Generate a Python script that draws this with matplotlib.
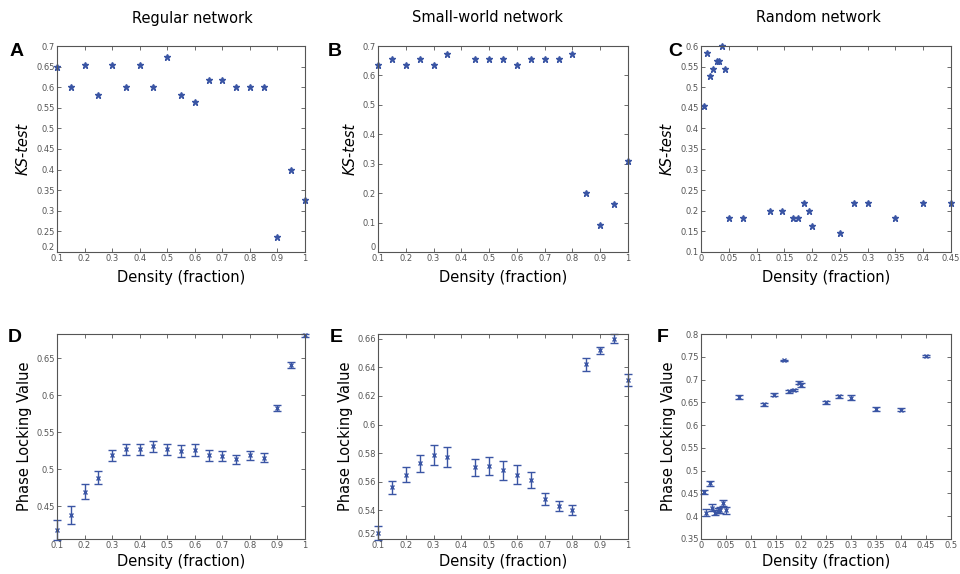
import numpy as np
import matplotlib
matplotlib.use("Agg")
import matplotlib.pyplot as plt
from matplotlib.ticker import FuncFormatter

# ---- data ----
dens_reg = [0.1, 0.15, 0.2, 0.25, 0.3, 0.35, 0.4, 0.45, 0.5, 0.55,
            0.6, 0.65, 0.7, 0.75, 0.8, 0.85, 0.9, 0.95, 1.0]
ks_reg = [0.65, 0.6, 0.655, 0.582, 0.655, 0.6, 0.655, 0.6, 0.673, 0.582,
          0.564, 0.618, 0.618, 0.6, 0.6, 0.6, 0.236, 0.4, 0.327]

dens_sw = [0.1, 0.15, 0.2, 0.25, 0.3, 0.35, 0.45, 0.5, 0.55,
           0.6, 0.65, 0.7, 0.75, 0.8, 0.85, 0.9, 0.95, 1.0]
ks_sw = [0.636, 0.655, 0.636, 0.655, 0.636, 0.673, 0.655, 0.655, 0.655,
         0.636, 0.655, 0.655, 0.655, 0.673, 0.2, 0.091, 0.164, 0.31]

dens_rnd = [0.005, 0.01, 0.017, 0.022, 0.028, 0.033, 0.038, 0.044, 0.05,
            0.075, 0.125, 0.145, 0.165, 0.175, 0.185, 0.195, 0.2, 0.25,
            0.275, 0.3, 0.35, 0.4, 0.45]
ks_rnd = [0.455, 0.582, 0.527, 0.545, 0.564, 0.564, 0.6, 0.545, 0.182,
          0.182, 0.2, 0.2, 0.182, 0.182, 0.218, 0.2, 0.164, 0.145,
          0.218, 0.218, 0.182, 0.218, 0.218]

plv_reg = [0.418, 0.438, 0.47, 0.489, 0.519, 0.527, 0.527, 0.531, 0.527, 0.525,
           0.526, 0.519, 0.518, 0.514, 0.519, 0.516, 0.583, 0.641, 0.681]
plv_reg_err = [0.013, 0.012, 0.01, 0.009, 0.007, 0.007, 0.007, 0.007, 0.007, 0.008,
               0.008, 0.007, 0.007, 0.006, 0.006, 0.006, 0.004, 0.004, 0.002]

plv_sw = [0.524, 0.556, 0.565, 0.573, 0.579, 0.577, 0.570, 0.571, 0.568,
          0.565, 0.561, 0.548, 0.543, 0.540, 0.642, 0.652, 0.660, 0.631]
plv_sw_err = [0.005, 0.0045, 0.0055, 0.006, 0.007, 0.007, 0.006, 0.0065, 0.0065,
              0.0065, 0.0055, 0.004, 0.0035, 0.0035, 0.0045, 0.0025, 0.003, 0.004]

plv_rnd = [0.453, 0.408, 0.472, 0.419, 0.408, 0.412, 0.414, 0.429, 0.413,
           0.661, 0.646, 0.667, 0.742, 0.674, 0.677, 0.693, 0.688, 0.65,
           0.663, 0.66, 0.636, 0.634, 0.751]
plv_rnd_err = [0.005, 0.007, 0.006, 0.007, 0.006, 0.006, 0.007, 0.007, 0.008,
               0.004, 0.003, 0.004, 0.002, 0.004, 0.003, 0.003, 0.004, 0.004,
               0.004, 0.005, 0.004, 0.004, 0.002]

titles = ["Regular network", "Small-world network", "Random network"]
letters = ["A", "B", "C", "D", "E", "F"]

BLUE = "#3a55a4"
GRAY = "#555555"

fig = plt.figure(figsize=(9.6, 5.74), dpi=100)

lefts = [57, 378, 701]
widths = [248, 250, 250]


def make_ax(col, top_px, bottom_px):
    l = lefts[col] / 960
    w = widths[col] / 960
    b = 1 - bottom_px / 574
    h = (bottom_px - top_px) / 574
    ax = fig.add_axes([l, b, w, h])
    ax.tick_params(direction="in", top=True, right=True, length=3,
                   width=0.6, labelsize=6, colors=GRAY, pad=1.5)
    for s in ax.spines.values():
        s.set_color(GRAY)
        s.set_linewidth(0.8)
    ax.xaxis.set_major_formatter(FuncFormatter(lambda v, p: f"{round(v, 3):g}"))
    ax.yaxis.set_major_formatter(FuncFormatter(lambda v, p: f"{round(v, 3):g}"))
    return ax


def lift_first_ylabel(ax):
    # keep the corner y label clear of the first x label
    fig.canvas.draw()
    lab = ax.get_yticklabels()[0]
    lab.set_verticalalignment("bottom")


# ---- top row: KS-test ----
top_data = [(dens_reg, ks_reg), (dens_sw, ks_sw), (dens_rnd, ks_rnd)]
top_xlim = [(0.1, 1.0), (0.1, 1.0), (0.0, 0.45)]
top_ylim = [(0.2, 0.7), (0.0, 0.7), (0.1, 0.6)]
top_xticks = [np.arange(0.1, 1.01, 0.1), np.arange(0.1, 1.01, 0.1), np.arange(0, 0.451, 0.05)]
top_yticks = [np.arange(0.2, 0.701, 0.05), np.arange(0, 0.701, 0.1), np.arange(0.1, 0.601, 0.05)]

for i in range(3):
    ax = make_ax(i, 46, 252)
    x, y = top_data[i]
    ax.plot(x, y, linestyle="none", marker="*", markersize=5, color=BLUE,
            clip_on=False)
    ax.set_xlim(*top_xlim[i])
    ax.set_ylim(*top_ylim[i])
    ax.set_xticks(top_xticks[i])
    ax.set_yticks(top_yticks[i])
    ax.set_xlabel("Density (fraction)", fontsize=10.5, labelpad=5)
    ax.set_ylabel("KS-test", fontsize=10.5, style="italic", labelpad=4)
    if i < 2:
        lift_first_ylabel(ax)
    fig.text([192, 488, 818][i] / 960, 1 - 18 / 574, titles[i],
             ha="center", va="center", fontsize=10.5)
    fig.text([10, 328, 668][i] / 960, 1 - 52 / 574, letters[i],
             fontsize=14, fontweight="bold", family="Liberation Sans",
             va="center")

# ---- bottom row: Phase Locking Value ----
bot_data = [(dens_reg, plv_reg, plv_reg_err), (dens_sw, plv_sw, plv_sw_err),
            (dens_rnd, plv_rnd, plv_rnd_err)]
bot_xlim = [(0.1, 1.0), (0.1, 1.0), (0.0, 0.5)]
bot_ylim = [(0.406, 0.683), (0.52, 0.6633), (0.35, 0.8)]
bot_xticks = [np.arange(0.1, 1.01, 0.1), np.arange(0.1, 1.01, 0.1), np.arange(0, 0.501, 0.05)]
bot_yticks = [np.arange(0.45, 0.651, 0.05), np.arange(0.52, 0.661, 0.02), np.arange(0.35, 0.801, 0.05)]

for i in range(3):
    ax = make_ax(i, 334, 539)
    x, y, e = bot_data[i]
    ax.errorbar(x, y, yerr=e, fmt="x", markersize=3, color=BLUE,
                ecolor=BLUE, elinewidth=1.0, capsize=3, capthick=1.0,
                clip_on=False)
    ax.set_xlim(*bot_xlim[i])
    ax.set_ylim(*bot_ylim[i])
    ax.set_xticks(bot_xticks[i])
    ax.set_yticks(bot_yticks[i])
    ax.set_xlabel("Density (fraction)", fontsize=10.5, labelpad=3)
    ax.set_ylabel("Phase Locking Value", fontsize=10.5, labelpad=3)
    if i == 1:
        lift_first_ylabel(ax)
    fig.text([8, 330, 657][i] / 960, 1 - 338 / 574, letters[i + 3],
             fontsize=14, fontweight="bold", family="Liberation Sans",
             va="center")

fig.savefig("out.png", dpi=100, facecolor="white")
